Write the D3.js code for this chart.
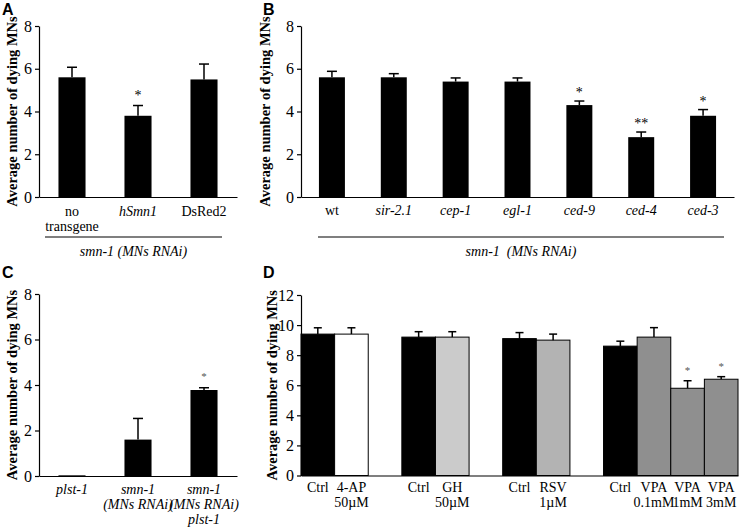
<!DOCTYPE html>
<html><head><meta charset="utf-8">
<script src="https://cdn.jsdelivr.net/npm/d3@7"></script>
<style>
body{margin:0;background:#fff;}
svg{display:block;}
</style></head>
<body><svg id="c" width="740" height="531"></svg>
<script>
// ---- data ----
const catsA = ["no\ntransgene", "hSmn1", "DsRed2"];
const valuesA = [5.6, 3.8, 5.5];
const errA = [0.47, 0.48, 0.72];
const starsA = ["", "*", ""];

const catsB = ["wt", "sir-2.1", "cep-1", "egl-1", "ced-9", "ced-4", "ced-3"];
const valuesB = [5.6, 5.6, 5.4, 5.4, 4.3, 2.8, 3.8];
const errB = [0.28, 0.17, 0.17, 0.17, 0.19, 0.24, 0.29];
const starsB = ["", "", "", "", "*", "**", "*"];

const catsC = ["plst-1", "smn-1\n(MNs RNAi)", "smn-1\n(MNs RNAi)\nplst-1"];
const valuesC = [0.03, 1.6, 3.78];
const errC = [0, 0.93, 0.1];
const starsC = ["", "", "*"];

const catsD = ["Ctrl", "4-AP\n50µM", "", "Ctrl", "GH\n50µM", "", "Ctrl", "RSV\n1µM", "", "Ctrl", "VPA\n0.1mM", "VPA\n1mM", "VPA\n3mM"];
const treatD = ["Ctrl", "4-AP", null, "Ctrl", "GH", null, "Ctrl", "RSV", null, "Ctrl", "VPA", "VPA", "VPA"];
const valuesD = [9.4, 9.4, null, 9.2, 9.2, null, 9.1, 9.0, null, 8.6, 9.2, 5.8, 6.4];
const errD = [0.42, 0.42, null, 0.36, 0.36, null, 0.4, 0.4, null, 0.33, 0.63, 0.5, 0.17];
const starsD = ["", "", "", "", "", "", "", "", "", "", "", "*", "*"];

const ticks8 = [0, 2, 4, 6, 8];
const ticks12 = [0, 2, 4, 6, 8, 10, 12];
const yTitle = "Average number of dying MNs";
const groupLabel = "smn-1  (MNs RNAi)";
const groupLabelA = "smn-1 (MNs RNAi)";

// ---- drawing ----
const SERIF = "'Liberation Serif', 'Times New Roman', Times, 'DejaVu Serif', serif";
const SANS = "'Liberation Sans', Arial, Helvetica, sans-serif";
const svg = d3.select("#c");
const colorD = d3.scaleOrdinal()
  .domain(["Ctrl", "4-AP", "GH", "RSV", "VPA"])
  .range(["#000000", "#ffffff", "#cbcbcb", "#b3b3b3", "#8f8f8f"]);

function panel(o) {
  const g = svg.append("g");
  const ids = o.cats.map((c, i) => i);
  const x = d3.scaleBand().domain(ids).range([o.x0, o.x1])
    .paddingInner(o.pad).paddingOuter(o.pad / 2);
  const y = d3.scaleLinear().domain([0, o.ymax]).range([o.yb, o.yt]);

  // y axis
  const ya = g.append("g").attr("transform", `translate(${o.x0},0)`)
    .call(d3.axisLeft(y).tickValues(o.ticks).tickSize(4).tickSizeOuter(0).tickPadding(3));
  ya.attr("font-family", SERIF);
  ya.selectAll("text").attr("font-size", 16).attr("fill", "#000");
  ya.selectAll("line,path").attr("stroke", "#000").attr("stroke-width", 1.2);

  // x axis line + labels
  const xa = g.append("g").attr("transform", `translate(0,${o.yb})`)
    .call(d3.axisBottom(x).tickSize(0).tickSizeOuter(0).tickFormat(""));
  xa.select("path").attr("stroke", "#000").attr("stroke-width", 1.2);
  xa.selectAll(".tick text").remove();
  o.cats.forEach((c, i) => {
    if (!c) return;
    const t = g.append("text").attr("text-anchor", "middle")
      .attr("font-size", 14).attr("fill", "#000")
      .attr("font-style", o.italic(i) ? "italic" : "normal");
    c.split("\n").forEach((line, k) => {
      t.append("tspan").attr("x", x(i) + x.bandwidth() / 2)
        .attr("y", o.lab0 + k * o.labStep).text(line);
    });
  });

  // bars
  const data = ids.filter(i => o.vals[i] != null);
  g.selectAll("rect.bar").data(data).join("rect").attr("class", "bar")
    .attr("x", i => x(i)).attr("width", x.bandwidth())
    .attr("y", i => y(o.vals[i])).attr("height", i => y(0) - y(o.vals[i]))
    .attr("fill", i => o.fill(i)).attr("stroke", o.stroke ? "#000" : "none")
    .attr("stroke-width", 1);

  // error bars
  const eb = data.filter(i => o.errs[i] > 0);
  const cx = i => x(i) + x.bandwidth() / 2;
  g.selectAll("line.ev").data(eb).join("line").attr("class", "ev")
    .attr("x1", cx).attr("x2", cx)
    .attr("y1", i => y(o.vals[i])).attr("y2", i => y(o.vals[i] + o.errs[i]))
    .attr("stroke", "#000").attr("stroke-width", 1.5);
  g.selectAll("line.ec").data(eb).join("line").attr("class", "ec")
    .attr("x1", i => cx(i) - o.cap).attr("x2", i => cx(i) + o.cap)
    .attr("y1", i => y(o.vals[i] + o.errs[i])).attr("y2", i => y(o.vals[i] + o.errs[i]))
    .attr("stroke", "#000").attr("stroke-width", 1.5);

  // stars
  g.selectAll("text.star").data(data.filter(i => o.stars[i])).join("text").attr("class", "star")
    .attr("x", cx).attr("y", i => y(o.vals[i] + (o.errs[i] || 0)) - o.starOff)
    .attr("text-anchor", "middle").attr("font-size", o.starSize).attr("fill", o.starColor)
    .text(i => o.stars[i]);

  // y title
  g.append("text").attr("transform", `translate(${o.tx},${(o.yt + o.yb) / 2}) rotate(-90)`)
    .attr("dy", "0.35em").attr("text-anchor", "middle").attr("font-weight", "bold")
    .attr("font-size", 14.5).attr("fill", "#000").text(yTitle);

  // group underline
  if (o.ul) {
    g.append("line").attr("x1", o.ul[0]).attr("x2", o.ul[1]).attr("y1", 237).attr("y2", 237)
      .attr("stroke", "#000").attr("stroke-width", 1.2);
    g.append("text").attr("x", (o.ul[0] + o.ul[1]) / 2).attr("y", 256)
      .attr("text-anchor", "middle").attr("font-style", "italic").attr("font-size", 14)
      .attr("xml:space", "preserve").style("white-space", "pre").attr("fill", "#000").text(o.ulText);
  }
  g.selectAll("text").attr("font-family", SERIF).style("font-family", SERIF);

  // panel letter
  svg.append("text").attr("x", o.lx).attr("y", o.ly).text(o.letter)
    .attr("font-family", SANS).style("font-family", SANS)
    .attr("font-weight", "bold").attr("font-size", 16).attr("fill", "#000");
}

panel({cats: catsA, vals: valuesA, errs: errA, stars: starsA, x0: 39, x1: 237, pad: 0.59,
  yt: 26, yb: 197, ymax: 8, ticks: ticks8, lab0: 216, labStep: 15,
  italic: i => i === 1, fill: () => "#000", stroke: false, cap: 5,
  starOff: 6, starSize: 14, starColor: "#000", tx: 12, lx: 2, ly: 15, letter: "A",
  ul: [45, 222], ulText: groupLabelA});

panel({cats: catsB, vals: valuesB, errs: errB, stars: starsB, x0: 301, x1: 734, pad: 0.58,
  yt: 26, yb: 197, ymax: 8, ticks: ticks8, lab0: 215, labStep: 15,
  italic: i => i > 0, fill: () => "#000", stroke: false, cap: 5,
  starOff: 4, starSize: 14, starColor: "#000", tx: 265, lx: 263, ly: 15, letter: "B",
  ul: [318, 724], ulText: groupLabel});

panel({cats: catsC, vals: valuesC, errs: errC, stars: starsC, x0: 39, x1: 237, pad: 0.59,
  yt: 294, yb: 476, ymax: 8, ticks: ticks8, lab0: 494, labStep: 15,
  italic: () => true, fill: () => "#000", stroke: false, cap: 5,
  starOff: 8, starSize: 11, starColor: "#555", tx: 12, lx: 2, ly: 278, letter: "C"});

panel({cats: catsD, vals: valuesD, errs: errD, stars: starsD, x0: 301, x1: 738, pad: 0,
  yt: 295, yb: 475.5, ymax: 12, ticks: ticks12, lab0: 492, labStep: 15,
  italic: () => false, fill: i => colorD(treatD[i]), stroke: true, cap: 4,
  starOff: 7, starSize: 11, starColor: "#555", tx: 272, lx: 263, ly: 278, letter: "D"});
</script>
</body></html>
